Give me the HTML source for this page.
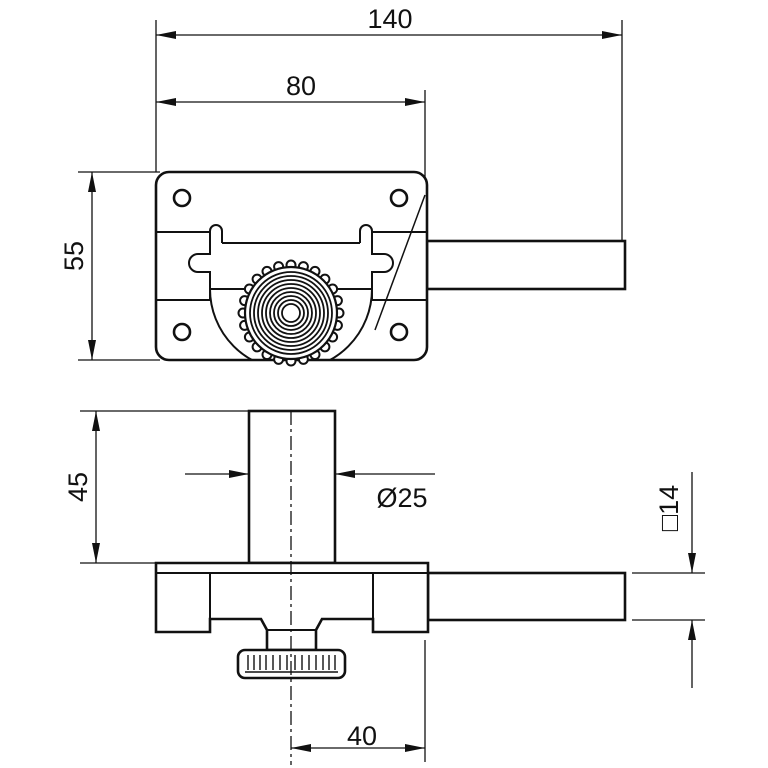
<!DOCTYPE html>
<html><head><style>html,body{margin:0;padding:0;background:#fff}svg{display:block}text{font-family:"Liberation Sans",sans-serif;font-size:27px;fill:#111}</style></head>
<body>
<svg width="768" height="768" viewBox="0 0 768 768" xmlns="http://www.w3.org/2000/svg">
<defs>
<marker id="a" viewBox="0 0 20 8" refX="20" refY="4" markerWidth="20" markerHeight="8" markerUnits="userSpaceOnUse" orient="auto-start-reverse"><path d="M0,0L20,4L0,8z" fill="#111"/></marker>
<clipPath id="pc"><rect x="156" y="172" width="271" height="188"/></clipPath>
</defs>
<g stroke="#111" stroke-width="1.3" fill="none">
<line x1="156" y1="20" x2="156" y2="172"/><line x1="622" y1="20" x2="622" y2="240"/>
<line x1="156" y1="35" x2="622" y2="35" marker-start="url(#a)" marker-end="url(#a)"/>
<line x1="425" y1="90" x2="425" y2="180"/>
<line x1="156" y1="102" x2="425" y2="102" marker-start="url(#a)" marker-end="url(#a)"/>
<line x1="78" y1="172" x2="160" y2="172"/><line x1="78" y1="360" x2="160" y2="360"/>
<line x1="92" y1="172" x2="92" y2="360" marker-start="url(#a)" marker-end="url(#a)"/>
<line x1="80" y1="411" x2="249" y2="411"/><line x1="80" y1="563" x2="156" y2="563"/>
<line x1="96" y1="411" x2="96" y2="563" marker-start="url(#a)" marker-end="url(#a)"/>
<line x1="185" y1="474" x2="249" y2="474" marker-end="url(#a)"/>
<line x1="435" y1="474" x2="335" y2="474" marker-end="url(#a)"/>
<line x1="632" y1="573" x2="705" y2="573"/><line x1="632" y1="620" x2="705" y2="620"/>
<line x1="692" y1="472" x2="692" y2="573" marker-end="url(#a)"/>
<line x1="692" y1="688" x2="692" y2="620" marker-end="url(#a)"/>
<line x1="425" y1="640" x2="425" y2="762"/>
<line x1="291" y1="748" x2="425" y2="748" marker-start="url(#a)" marker-end="url(#a)"/>
</g>
<text x="390" y="28" text-anchor="middle">140</text>
<text x="301" y="95" text-anchor="middle">80</text>
<text transform="translate(83,256) rotate(-90)" text-anchor="middle">55</text>
<text transform="translate(87,487) rotate(-90)" text-anchor="middle">45</text>
<text x="402" y="507" text-anchor="middle">Ø25</text>
<text x="362" y="745" text-anchor="middle">40</text>
<text transform="translate(678,508) rotate(-90)" text-anchor="middle">□14</text>

<g stroke="#111" stroke-width="2.6" fill="none">
<rect x="427" y="241" width="198" height="48" fill="#fff"/>
<rect x="156" y="172" width="271" height="188" rx="13" fill="#fff"/>
<g clip-path="url(#pc)">
<path d="M210,289 A81,81 0 0 0 372,289" stroke-width="2"/>
</g>
<g stroke-width="2">
<line x1="156" y1="232" x2="210" y2="232"/><line x1="372" y1="232" x2="427" y2="232"/>
<line x1="222" y1="243" x2="360" y2="243"/>
<line x1="210" y1="289" x2="372" y2="289"/>
<line x1="156" y1="300" x2="210" y2="300"/><line x1="372" y1="300" x2="427" y2="300"/>
<path d="M210,243 V231 a6,6 0 0 1 12,0 V243"/>
<path d="M360,243 V231 a6,6 0 0 1 12,0 V243"/>
<path d="M210,243 V254 H198 a9,9 0 0 0 0,18 H210 V300"/>
<path d="M372,243 V254 H384 a9,9 0 0 1 0,18 H372 V300"/>
<line x1="425" y1="195" x2="375" y2="330" stroke-width="1.5"/>
</g>
<circle cx="182" cy="198" r="8"/><circle cx="399" cy="198" r="8"/>
<circle cx="182" cy="332" r="8"/><circle cx="399" cy="332" r="8"/>
<g stroke-width="2" fill="#fff">
<circle cx="339" cy="313" r="4.5"/><circle cx="337.4" cy="325.4" r="4.5"/><circle cx="332.6" cy="337" r="4.5"/><circle cx="324.9" cy="346.9" r="4.5"/><circle cx="315" cy="354.6" r="4.5"/><circle cx="303.4" cy="359.4" r="4.5"/><circle cx="291" cy="361" r="4.5"/><circle cx="278.6" cy="359.4" r="4.5"/><circle cx="267" cy="354.6" r="4.5"/><circle cx="257.1" cy="346.9" r="4.5"/><circle cx="249.4" cy="337" r="4.5"/><circle cx="244.6" cy="325.4" r="4.5"/><circle cx="243" cy="313" r="4.5"/><circle cx="244.6" cy="300.6" r="4.5"/><circle cx="249.4" cy="289" r="4.5"/><circle cx="257.1" cy="279.1" r="4.5"/><circle cx="267" cy="271.4" r="4.5"/><circle cx="278.6" cy="266.6" r="4.5"/><circle cx="291" cy="265" r="4.5"/><circle cx="303.4" cy="266.6" r="4.5"/><circle cx="315" cy="271.4" r="4.5"/><circle cx="324.9" cy="279.1" r="4.5"/><circle cx="332.6" cy="289" r="4.5"/><circle cx="337.4" cy="300.6" r="4.5"/>
</g>
<circle cx="291" cy="313" r="46" fill="#fff" stroke-width="2.2"/>
<g stroke-width="1.8">
<circle cx="291" cy="313" r="41"/><circle cx="291" cy="313" r="37"/><circle cx="291" cy="313" r="33"/><circle cx="291" cy="313" r="29"/><circle cx="291" cy="313" r="25"/><circle cx="291" cy="313" r="21"/><circle cx="291" cy="313" r="17"/><circle cx="291" cy="313" r="13"/><circle cx="291" cy="313" r="9"/>
</g>
<rect x="249" y="411" width="86" height="152" fill="#fff"/>
<rect x="428" y="573" width="197" height="47" fill="#fff"/>
<path d="M156,563 H428 V632 H373 V619 H322 L316,630 V650 H267 V630 L261,619 H210 V632 H156 Z" fill="#fff"/>
<g stroke-width="2">
<line x1="156" y1="573" x2="428" y2="573"/>
<line x1="210" y1="573" x2="210" y2="619"/><line x1="373" y1="573" x2="373" y2="619"/>
<line x1="267" y1="630" x2="316" y2="630"/>
</g>
<rect x="238" y="650" width="107" height="28" rx="7" fill="#fff"/>
<g stroke-width="1.4">
<line x1="245" y1="672" x2="338" y2="672"/>
<line x1="248" y1="655" x2="248" y2="670"/><line x1="254" y1="655" x2="254" y2="670"/><line x1="260" y1="655" x2="260" y2="670"/><line x1="266" y1="655" x2="266" y2="670"/><line x1="273" y1="655" x2="273" y2="670"/><line x1="280" y1="655" x2="280" y2="670"/><line x1="287" y1="655" x2="287" y2="670"/><line x1="295" y1="655" x2="295" y2="670"/><line x1="302" y1="655" x2="302" y2="670"/><line x1="309" y1="655" x2="309" y2="670"/><line x1="316" y1="655" x2="316" y2="670"/><line x1="323" y1="655" x2="323" y2="670"/><line x1="329" y1="655" x2="329" y2="670"/><line x1="335" y1="655" x2="335" y2="670"/>
</g>
</g>
<line x1="291" y1="411" x2="291" y2="765" stroke="#111" stroke-width="1.3" stroke-dasharray="14,4,3,4"/>
</svg>
</body></html>
